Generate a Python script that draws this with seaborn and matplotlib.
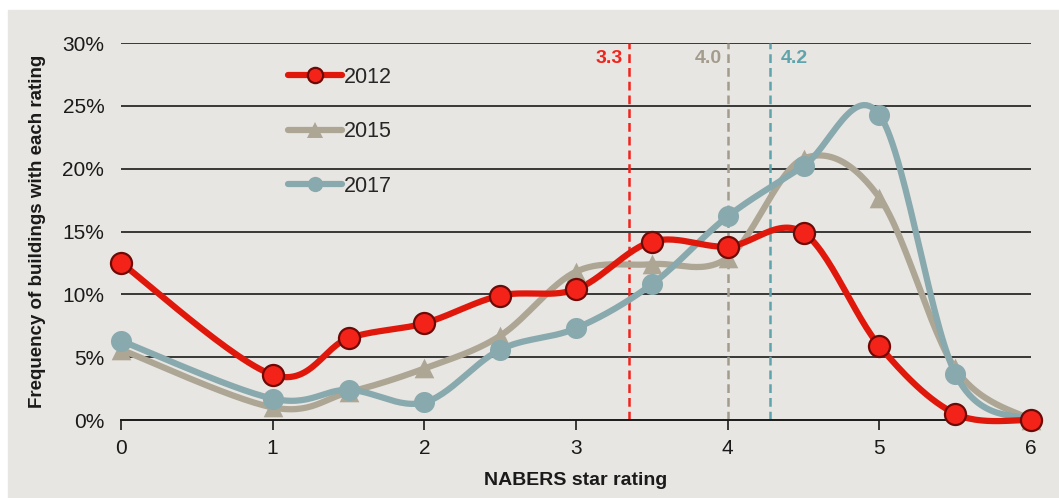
import numpy as np
import pandas as pd
import matplotlib
matplotlib.use("Agg")
import matplotlib.pyplot as plt
import matplotlib.patches as mpatches
from matplotlib.ticker import PercentFormatter
import seaborn as sns

# -------------------------
# DATA
# -------------------------
ratings = [0, 1, 1.5, 2, 2.5, 3, 3.5, 4, 4.5, 5, 5.5, 6]
freq_2012 = [12.5, 3.6, 6.5, 7.7, 9.9, 10.4, 14.2, 13.8, 14.9, 5.9, 0.5, 0.0]
freq_2015 = [5.6, 1.0, 2.2, 4.1, 6.7, 11.8, 12.4, 12.9, 20.8, 17.7, 4.1, 0.0]
freq_2017 = [6.3, 1.7, 2.4, 1.4, 5.6, 7.3, 10.8, 16.2, 20.2, 24.3, 3.7, 0.0]

years = ["2012", "2015", "2017"]
mean_positions = [3.35, 4.0, 4.28]
mean_labels = ["3.3", "4.0", "4.2"]

yticks = [0, 5, 10, 15, 20, 25, 30]
xticks = [0, 1, 2, 3, 4, 5, 6]

# -------------------------
# STYLE
# -------------------------
BG = "#E8E6E2"
line_colors = {"2012": "#E0180C", "2015": "#ADA695", "2017": "#88A9AD"}
marker_style = {"2012": "o", "2015": "^", "2017": "o"}
marker_edge = {"2012": "#6E0A06", "2015": "#ADA695", "2017": "#88A9AD"}
marker_face = {"2012": "#F4231A", "2015": "#ADA695", "2017": "#88A9AD"}
dash_colors = ["#F0241C", "#A39B8C", "#5FA4AC"]


def smooth(x, y, n=30):
    # Catmull-Rom style curve, like Excel's "smoothed line"
    x = np.asarray(x, float)
    y = np.asarray(y, float)
    px = np.concatenate([[x[0]], x, [x[-1]]])
    py = np.concatenate([[y[0]], y, [y[-1]]])
    xs, ys = [], []
    t = np.linspace(0, 1, n)
    for i in range(1, len(px) - 2):
        p0, p1, p2, p3 = [np.array([px[j], py[j]]) for j in (i - 1, i, i + 1, i + 2)]
        c1 = p1 + (p2 - p0) / 6
        c2 = p2 - (p3 - p1) / 6
        pts = ((1 - t) ** 3)[:, None] * p1 + (3 * (1 - t) ** 2 * t)[:, None] * c1 \
            + (3 * (1 - t) * t ** 2)[:, None] * c2 + (t ** 3)[:, None] * p2
        xs.extend(pts[:, 0])
        ys.extend(pts[:, 1])
    return np.array(xs), np.array(ys)


sns.set_theme(style="white")
plt.rcParams["font.family"] = ["Liberation Sans", "DejaVu Sans"]

fig = plt.figure(figsize=(10.59, 4.98), dpi=100, facecolor="white")
fig.patches.append(mpatches.Rectangle((8 / 1059, 0), 1, 1 - 10 / 498,
                                      transform=fig.transFigure, color=BG, zorder=-10))
ax = fig.add_axes([121 / 1059, 1 - 420 / 498, (1031 - 121) / 1059, (420 - 43) / 498])
ax.set_facecolor(BG)
ax.patch.set_alpha(0)

df = pd.DataFrame({"rating": ratings, "2012": freq_2012, "2015": freq_2015, "2017": freq_2017})

# gridlines
for yv in yticks[1:]:
    ax.axhline(yv, color="#1A1A1A", lw=1.2, zorder=1)

# dashed mean lines
for pos, lab, col in zip(mean_positions, mean_labels, dash_colors):
    ax.axvline(pos, ymin=0, ymax=1.0, color=col, lw=1.8, ls=(0, (3.5, 2)), zorder=2)
    if lab == "4.2":
        ax.text(pos + 0.07, 28.8, lab, color=col, fontsize=14, fontweight="bold",
                ha="left", va="center")
    else:
        ax.text(pos - 0.04, 28.8, lab, color=col, fontsize=14, fontweight="bold",
                ha="right", va="center")

handles = []
for yr in ["2015", "2017", "2012"]:
    sx, sy = smooth(df["rating"], df[yr])
    sns.lineplot(x=sx, y=sy, ax=ax, color=line_colors[yr], lw=4.5, sort=False,
                 zorder=3, clip_on=False, estimator=None)
    sns.scatterplot(x=df["rating"], y=df[yr], ax=ax, marker=marker_style[yr],
                    s=230 if yr != "2015" else 200, color=marker_face[yr],
                    edgecolor=marker_edge[yr], linewidth=1.6 if yr == "2012" else 0,
                    zorder=4, clip_on=False)

for yr in years:
    handles.append(plt.Line2D([], [], color=line_colors[yr], lw=4.5, marker=marker_style[yr],
                              markersize=11, markerfacecolor=marker_face[yr],
                              markeredgecolor=marker_edge[yr],
                              markeredgewidth=1.6 if yr == "2012" else 0,
                              solid_capstyle="round"))

leg = ax.legend(handles, years, loc="upper left", bbox_to_anchor=(0.172, 0.965),
                frameon=False, fontsize=15.5, labelspacing=1.55, handlelength=2.5,
                handletextpad=0.1, borderpad=0)

ax.set_xlim(0, 6)
ax.set_ylim(0, 30)
ax.set_xticks(xticks)
ax.set_yticks(yticks)
ax.yaxis.set_major_formatter(PercentFormatter(decimals=0))
ax.tick_params(axis="x", bottom=True, length=7, width=1.2, color="#1A1A1A",
               labelsize=15, pad=7, labelcolor="#1A1A1A")
ax.tick_params(axis="y", left=False, labelsize=15, pad=6, labelcolor="#1A1A1A")
for side in ["top", "right", "left"]:
    ax.spines[side].set_visible(False)
ax.spines["bottom"].set_color("#1A1A1A")
ax.spines["bottom"].set_linewidth(1.4)
ax.spines["bottom"].set_zorder(2.5)

ax.set_xlabel("NABERS star rating", fontsize=14, fontweight="bold", labelpad=10,
              color="#1A1A1A")
ax.set_ylabel("Frequency of buildings with each rating", fontsize=13.5,
              fontweight="bold", labelpad=12, color="#1A1A1A")

fig.savefig("out.png", dpi=100, facecolor="white")
